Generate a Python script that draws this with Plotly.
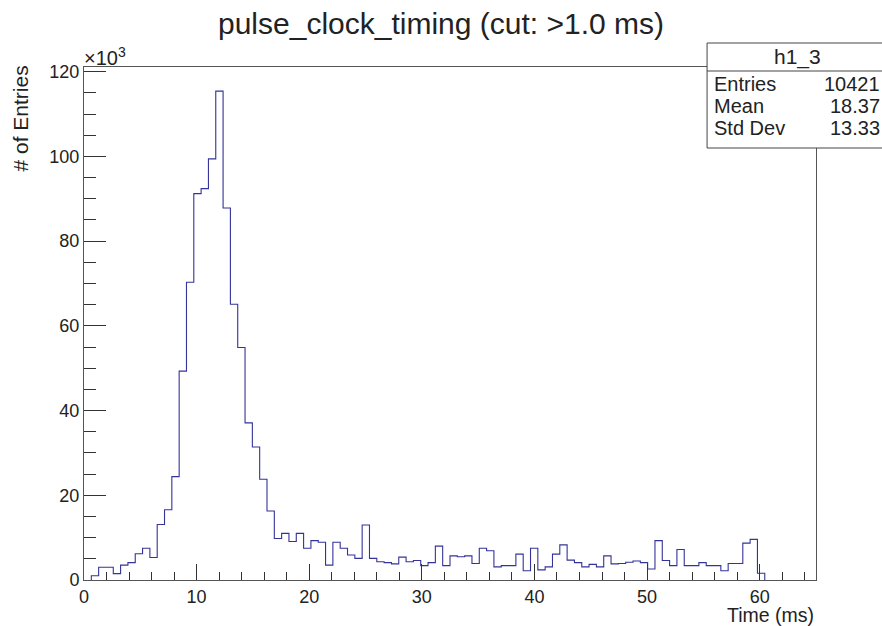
import plotly.graph_objects as go

# ---- data (entries per bin, in units of 10^3) ----
bin_width = 0.65
n_bins = 100
counts_k = [
    0.0, 1.0, 3.0, 3.0, 1.5, 3.5, 4.1, 6.2, 7.5, 5.3,
    13.1, 16.6, 24.4, 49.3, 70.3, 91.2, 92.4, 99.4, 115.4, 87.8,
    65.1, 54.9, 37.1, 31.4, 23.8, 16.3, 9.8, 11.0, 9.1, 11.0,
    7.5, 9.3, 8.9, 3.5, 8.9, 7.5, 5.9, 5.1, 13.0, 5.1,
    4.3, 4.1, 3.8, 5.4, 4.3, 4.6, 3.4, 4.1, 8.0, 3.4,
    5.7, 5.5, 5.7, 3.9, 7.5, 6.9, 3.1, 3.4, 3.4, 6.1,
    2.2, 7.5, 2.4, 3.1, 6.1, 8.3, 4.7, 4.1, 3.1, 3.7,
    3.1, 5.7, 3.8, 3.9, 4.2, 4.5, 4.1, 2.6, 9.3, 4.6,
    3.4, 7.2, 3.4, 3.4, 4.1, 3.4, 3.4, 2.2, 3.9, 3.9,
    8.7, 9.6, 1.6, 0.0, 0.0, 0.0, 0.0, 0.0, 0.0, 0.0,
]
x_ticks = [0, 10, 20, 30, 40, 50, 60]
y_ticks = [0, 20, 40, 60, 80, 100, 120]
stats_name = "h1_3"
stats_labels = ["Entries", "Mean", "Std Dev"]
stats_values = ["10421", "18.37", "13.33"]
title_text = "pulse_clock_timing (cut: >1.0 ms)"

# step outline: from first to last non-empty bin, dropping to 0 at both ends
first = next(i for i, v in enumerate(counts_k) if v > 0)
last = max(i for i, v in enumerate(counts_k) if v > 0)
edges = [i * bin_width for i in range(n_bins + 1)]
sx = [edges[first]] + edges[first:last + 1] + [edges[last + 1], edges[last + 1]]
sy = [0.0] + counts_k[first:last + 1] + [counts_k[last], 0.0]

W, H = 882, 626
L, R, T, B = 83.5, 816, 67, 580
FONT = "Liberation Sans, Arial, sans-serif"
LINE_COL = "#333399"
AX_COL = "#555555"


def px(xp):
    return (xp - L) / (R - L)


def py(yp):
    return (B - yp) / (B - T)


fig = go.Figure()
fig.add_trace(go.Scatter(
    x=sx, y=sy, mode="lines", line_shape="hv",
    line=dict(color=LINE_COL, width=1.1), hoverinfo="skip", showlegend=False,
))

fig.update_layout(
    width=W, height=H,
    margin=dict(l=L, r=W - R, t=T, b=H - B, pad=0),
    paper_bgcolor="white", plot_bgcolor="white",
    font=dict(family=FONT, size=18, color="black"),
    showlegend=False,
)
fig.update_xaxes(
    range=[0, 65], tickvals=x_ticks, ticks="inside", ticklen=16, tickwidth=1,
    tickcolor="#333333", showgrid=False, zeroline=False,
    showline=True, mirror=True, linecolor=AX_COL, linewidth=1,
    tickfont=dict(size=18, color="#222222"),
    minor=dict(ticks="inside", ticklen=8, dtick=2, tick0=0, tickcolor="#333333", showgrid=False),
)
fig.update_yaxes(
    range=[0, 121.1], tickvals=y_ticks, ticks="inside", ticklen=22, tickwidth=1,
    tickcolor="#333333", showgrid=False, zeroline=False,
    showline=True, mirror=True, linecolor=AX_COL, linewidth=1,
    tickfont=dict(size=18, color="#222222"),
    minor=dict(ticks="inside", ticklen=12, dtick=5, tick0=0, tickcolor="#333333", showgrid=False),
)

TXT = "#222222"
ann = []
ann.append(dict(text=title_text, x=px(441), y=py(23), xref="paper", yref="paper", showarrow=False,
                xanchor="center", yanchor="middle", font=dict(size=30, family=FONT, color=TXT)))
ann.append(dict(text="×10<sup>3</sup>", x=px(81), y=py(56), xref="paper", yref="paper",
                showarrow=False, xanchor="left", yanchor="middle", font=dict(size=20, family=FONT, color=TXT)))
ann.append(dict(text="# of Entries", x=px(19), y=py(64), xref="paper", yref="paper",
                showarrow=False, textangle=-90, xanchor="center", yanchor="top",
                font=dict(size=21, family=FONT, color=TXT)))
ann.append(dict(text="Time (ms)", x=px(816), y=py(615), xref="paper", yref="paper",
                showarrow=False, xanchor="right", yanchor="middle",
                font=dict(size=19.5, family=FONT, color=TXT)))

# stats box
bx0, bx1, by0, by1, hline = 707, 890, 43, 148, 71
shapes = [
    dict(type="rect", xref="paper", yref="paper", x0=px(bx0), x1=px(bx1), y0=py(by1), y1=py(by0),
         line=dict(color="#444444", width=1), fillcolor="white", layer="above"),
    dict(type="line", xref="paper", yref="paper", x0=px(bx0), x1=px(bx1), y0=py(hline), y1=py(hline),
         line=dict(color="#444444", width=1), layer="above"),
]
ann.append(dict(text=stats_name, x=px(797), y=py(57), xref="paper", yref="paper", showarrow=False,
                xanchor="center", yanchor="middle", font=dict(size=21, family=FONT, color=TXT)))
row_y = [84, 106, 128]
for lab, val, yy in zip(stats_labels, stats_values, row_y):
    ann.append(dict(text=lab, x=px(712), y=py(yy), xref="paper", yref="paper", showarrow=False,
                    xanchor="left", yanchor="middle", font=dict(size=20, family=FONT, color=TXT)))
    ann.append(dict(text=val, x=px(882), y=py(yy), xref="paper", yref="paper", showarrow=False,
                    xanchor="right", yanchor="middle", font=dict(size=20, family=FONT, color=TXT)))

fig.update_layout(annotations=ann, shapes=shapes)
fig.write_html("out.html")
